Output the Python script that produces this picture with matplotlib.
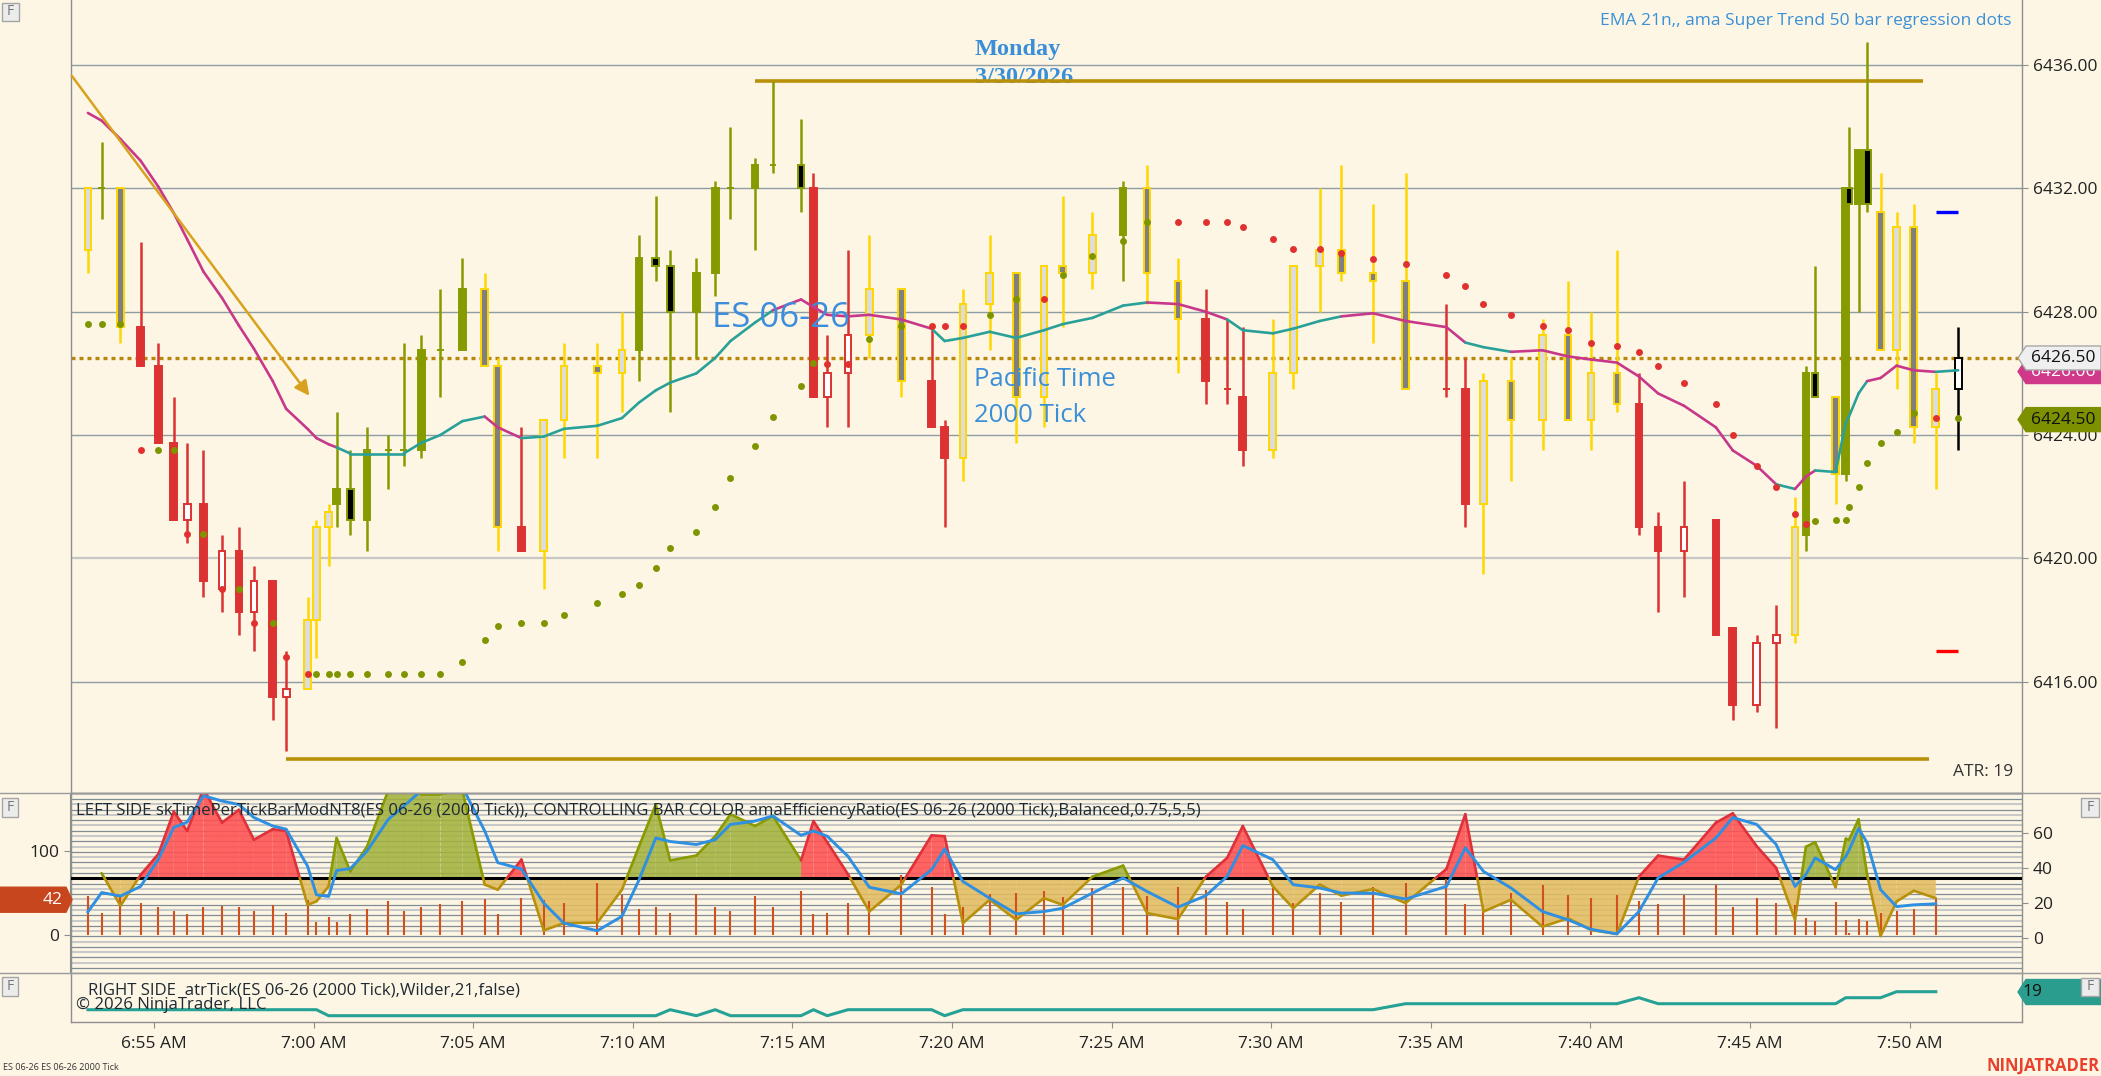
import matplotlib
matplotlib.use('Agg')
import matplotlib.pyplot as plt
import numpy as np
from matplotlib.patches import Rectangle, Polygon

# ---------------- DATA ----------------
# bar close times, minutes after 6:00 AM
bar_time = [52.93, 53.36, 53.95, 54.58, 55.14, 55.62, 56.04, 56.55, 57.13, 57.66,
            58.13, 58.72, 59.14, 59.81, 60.09, 60.47, 60.72, 61.15, 61.67, 62.34,
            62.82, 63.38, 63.97, 64.66, 65.36, 65.77, 66.51, 67.21, 67.84, 68.89,
            69.66, 70.19, 70.72, 71.17, 71.99, 72.58, 73.06, 73.83, 74.39, 75.27,
            75.66, 76.09, 76.74, 77.41, 78.41, 79.36, 79.77, 80.34, 81.18, 82.01,
            82.88, 83.47, 84.40, 85.36, 86.11, 87.08, 87.95, 88.62, 89.11, 90.05,
            90.69, 91.52, 92.20, 93.19, 94.21, 95.49, 96.08, 96.65, 97.51, 98.50,
            99.30, 100.02, 100.83, 101.52, 102.12, 102.93, 103.93, 104.46, 105.21, 105.82,
            106.41, 106.75, 107.04, 107.68, 108.00, 108.10, 108.40, 108.67, 109.09, 109.59,
            110.13, 110.82, 111.52]
bar_open = [6430.0, 6432.0, 6432.0, 6427.5, 6426.25, 6423.75, 6421.25, 6421.75, 6419.0, 6420.25,
            6418.25, 6419.25, 6415.5, 6415.75, 6418.0, 6421.0, 6421.75, 6422.25, 6421.25, 6423.5,
            6423.5, 6423.5, 6426.75, 6426.75, 6428.75, 6426.25, 6421.0, 6420.25, 6424.5, 6426.25,
            6426.0, 6426.75, 6429.75, 6429.5, 6428.0, 6429.25, 6432.0, 6432.0, 6432.75, 6432.75,
            6432.0, 6425.25, 6426.0, 6427.25, 6428.75, 6425.75, 6424.25, 6423.25, 6428.25, 6429.25,
            6425.25, 6429.5, 6429.25, 6430.5, 6432.0, 6429.0, 6427.75, 6425.5, 6425.25, 6423.5,
            6426.0, 6429.5, 6430.0, 6429.25, 6429.0, 6425.5, 6425.5, 6421.75, 6425.75, 6424.5,
            6427.25, 6424.5, 6426.0, 6425.0, 6421.0, 6420.25, 6421.25, 6417.75, 6415.25, 6417.25,
            6417.5, 6420.75, 6426.0, 6425.25, 6422.75, 6432.0, 6431.5, 6433.25, 6431.25, 6426.75,
            6430.75, 6424.25, 6425.5]
bar_high = [6432.0, 6433.5, 6432.0, 6430.25, 6427.0, 6425.25, 6423.75, 6423.5, 6420.75, 6421.0,
            6419.75, 6419.25, 6417.0, 6418.75, 6421.25, 6421.75, 6424.75, 6423.5, 6424.25, 6424.0,
            6427.0, 6427.25, 6428.75, 6429.75, 6429.25, 6426.5, 6424.25, 6424.5, 6427.0, 6427.0,
            6428.0, 6430.5, 6431.75, 6430.0, 6429.75, 6432.25, 6434.0, 6433.0, 6435.5, 6434.25,
            6432.5, 6427.25, 6430.0, 6430.5, 6428.75, 6427.5, 6424.5, 6428.75, 6430.5, 6429.25,
            6429.5, 6431.75, 6431.25, 6432.25, 6432.75, 6429.75, 6428.75, 6427.75, 6427.5, 6427.75,
            6429.5, 6432.0, 6432.75, 6431.5, 6432.5, 6428.25, 6426.5, 6426.0, 6426.5, 6427.75,
            6429.0, 6428.0, 6430.0, 6426.0, 6421.5, 6422.5, 6421.25, 6417.75, 6417.5, 6418.5,
            6422.0, 6426.25, 6429.5, 6425.25, 6432.0, 6434.0, 6433.25, 6436.75, 6432.5, 6431.25,
            6431.5, 6426.0, 6427.5]
bar_low = [6429.25, 6431.0, 6427.0, 6426.25, 6423.75, 6421.25, 6420.5, 6418.75, 6418.25, 6417.5,
           6417.0, 6414.75, 6413.75, 6415.75, 6416.75, 6419.75, 6421.0, 6420.75, 6420.25, 6422.25,
           6423.0, 6423.25, 6425.25, 6426.75, 6426.25, 6420.25, 6420.25, 6419.0, 6423.25, 6423.25,
           6424.75, 6425.75, 6429.0, 6424.75, 6426.5, 6428.5, 6431.0, 6430.0, 6432.5, 6431.25,
           6425.25, 6424.25, 6424.25, 6426.5, 6425.25, 6424.25, 6421.0, 6422.5, 6426.75, 6423.75,
           6424.25, 6427.5, 6428.75, 6429.0, 6428.25, 6426.0, 6425.0, 6425.0, 6423.0, 6423.25,
           6425.5, 6428.0, 6429.0, 6427.0, 6425.5, 6425.25, 6421.0, 6419.5, 6422.5, 6423.5,
           6424.5, 6423.5, 6424.75, 6420.75, 6418.25, 6418.75, 6417.5, 6414.75, 6415.0, 6414.5,
           6417.25, 6420.25, 6425.25, 6421.75, 6422.5, 6431.5, 6428.0, 6431.25, 6426.75, 6425.5,
           6423.75, 6422.25, 6423.5]
bar_close = [6432.0, 6432.0, 6427.5, 6426.25, 6423.75, 6421.25, 6421.75, 6419.25, 6420.25, 6418.25,
             6419.25, 6415.5, 6415.75, 6418.0, 6421.0, 6421.5, 6422.25, 6421.25, 6423.5, 6423.5,
             6423.5, 6426.75, 6426.75, 6428.75, 6426.25, 6421.0, 6420.25, 6424.5, 6426.25, 6426.0,
             6426.75, 6429.75, 6429.5, 6428.0, 6429.25, 6432.0, 6432.0, 6432.75, 6432.75, 6432.0,
             6425.25, 6426.0, 6427.25, 6428.75, 6425.75, 6424.25, 6423.25, 6428.25, 6429.25, 6425.25,
             6429.5, 6429.25, 6430.5, 6432.0, 6429.25, 6427.75, 6425.75, 6425.5, 6423.5, 6426.0,
             6429.5, 6430.0, 6429.25, 6429.0, 6425.5, 6425.5, 6421.75, 6425.75, 6424.5, 6427.25,
             6424.5, 6426.0, 6425.0, 6421.0, 6420.25, 6421.0, 6417.5, 6415.25, 6417.25, 6417.5,
             6421.0, 6426.0, 6425.25, 6422.75, 6432.0, 6431.5, 6433.25, 6431.5, 6426.75, 6430.75,
             6424.25, 6425.5, 6426.5]
# bar colour class from efficiency ratio: r=red, g=olive, y=yellow, k=current bar
bar_class = list("ygy" "rrrrrrrrrr" "yyy" "gggggggg" "yy" "r" "yyyy" "ggggggggg" "rrr" "yy"
                 "rr" "yyyyyy" "g" "yy" "rrr" "yyyyyy" "rr" "yyyyyy" "rrrrrrr" "y" "gg" "y"
                 "gggg" "yyyy" "k")
# super trend / regression dots
dot_value = [6427.6, 6427.6, 6427.6, 6423.5, 6423.5, 6423.5, 6420.8, 6420.8, 6419.0, 6419.0,
             6417.9, 6417.9, 6416.8, 6416.25, 6416.25, 6416.25, 6416.25, 6416.25, 6416.25, 6416.25,
             6416.25, 6416.25, 6416.25, 6416.65, 6417.35, 6417.8, 6417.9, 6417.9, 6418.15, 6418.55,
             6418.85, 6419.15, 6419.7, 6420.35, 6420.85, 6421.65, 6422.6, 6423.65, 6424.6, 6425.6,
             6426.35, 6426.3, 6426.3, 6427.1, 6427.55, 6427.55, 6427.55, 6427.55, 6427.9, 6428.4,
             6428.4, 6429.2, 6429.8, 6430.3, 6430.9, 6430.9, 6430.9, 6430.9, 6430.75, 6430.35,
             6430.05, 6430.05, 6429.9, 6429.7, 6429.55, 6429.2, 6428.85, 6428.25, 6427.9, 6427.55,
             6427.4, 6427.0, 6426.9, 6426.7, 6426.25, 6425.7, 6425.0, 6424.0, 6423.0, 6422.3,
             6421.45, 6421.1, 6421.2, 6421.25, 6421.25, 6421.65, 6422.3, 6423.1, 6423.75, 6424.1,
             6424.7, 6424.55, 6424.55]
dot_class = list("ggg" "r" "gg" "r" "g" "r" "g" "r" "g" "rr"
                 "ggggggggggggggggggggggggggg" "rr" "gg" "rrr" "gg" "r" "gggg"
                 "rrrrrrrrrrrrrrrrrrrrrrrrrrr" "ggggggggg" "r" "g")
# EMA 21
ema_value = [6434.45, 6434.2, 6433.6, 6432.9, 6432.05, 6431.2, 6430.35, 6429.3, 6428.45, 6427.55,
             6426.8, 6425.75, 6424.85, 6424.2, 6423.9, 6423.7, 6423.6, 6423.4, 6423.4, 6423.4,
             6423.4, 6423.75, 6424.0, 6424.45, 6424.6, 6424.25, 6423.9, 6423.95, 6424.2, 6424.3,
             6424.55, 6425.05, 6425.45, 6425.7, 6426.0, 6426.5, 6427.05, 6427.65, 6428.05, 6428.4,
             6428.15, 6427.9, 6427.85, 6427.9, 6427.75, 6427.45, 6427.05, 6427.15, 6427.35, 6427.15,
             6427.4, 6427.6, 6427.8, 6428.2, 6428.3, 6428.25, 6428.0, 6427.75, 6427.4, 6427.3,
             6427.45, 6427.7, 6427.85, 6427.95, 6427.7, 6427.5, 6427.0, 6426.85, 6426.7, 6426.75,
             6426.55, 6426.45, 6426.35, 6425.9, 6425.35, 6424.95, 6424.25, 6423.5, 6423.0, 6422.4,
             6422.25, 6422.65, 6422.85, 6422.8, 6424.4, 6424.6, 6425.35, 6425.75, 6425.85, 6426.25,
             6426.1, 6426.05, 6426.1]
# colour of the EMA segment that ends at each bar: m=magenta, t=teal
ema_class = list("m" "mmmmmmmmmmmmmmmm" "tttttttt" "mm" "tttttttttttt" "mmmmmmm" "ttttttttt"
                 "mmm" "ttttt" "mmmm" "tt" "mmmmmmmmmmm" "t" "mm" "ttttt" "mmmm" "t")
# lower panel: time per tick (left scale) and efficiency ratio (right scale)
tpt = [46.4, 25.8, 45.6, 37.7, 33, 28.6, 25, 33, 34.5, 33,
       28.6, 35.3, 25.8, 41.7, 15.9, 21.8, 15.9, 25, 31, 40.5,
       28.6, 33, 36.5, 40.5, 42.9, 24.6, 44.4, 41.7, 37.7, 62.3,
       47.6, 30.6, 33, 25.8, 48.8, 33.7, 28.9, 46.4, 33, 52.4,
       24.6, 25.8, 38.5, 40.5, 71.4, 57.5, 24.6, 33.7, 48.8, 49.6,
       52.4, 45.6, 55.6, 57.5, 46.4, 57.5, 53.6, 39.7, 30.6, 56.3,
       38.5, 50.4, 39.7, 57.5, 61.5, 66.3, 36.9, 34.5, 49.6, 59.5,
       47.6, 43.7, 47.6, 40.5, 36.9, 47.6, 59.5, 33, 44.4, 37.7,
       35.7, 19.8, 16.7, 39.7, 17.9, 2.8, 18.7, 16.7, 25.8, 28.6,
       31, 42.5]
eff_ratio = [np.nan, 37, 18.5, 36, 48, 72, 61, 85, 65.7, 73,
             56, 62, 61, 19, 21, 29.5, 57, 38, 52, 84,
             84, 82, 82, 84, 30.5, 27.6, 44.7, 4.5, 8.6, 8.9,
             27.6, 52, 76, 44.3, 47, 58, 70.5, 63.8, 69.5, 44.3,
             66.6, 54.6, 36.4, 15.2, 30.5, 58.5, 58, 8.6, 21.9, 10.5,
             22.8, 19, 35, 41.3, 14.3, 10.9, 34.9, 45.7, 63.8, 29.5,
             17.1, 30.5, 24.2, 28, 20, 39.4, 70.5, 15.2, 21.9, 6.6,
             11.4, 4.7, 2.5, 35, 47, 44.7, 65.7, 71, 52.3, 40,
             10.5, 52, 54.6, 29, 56.6, 56, 67.6, 36, 1.3, 20.9,
             27, 22.8]
# colour of the area above the threshold: r=red, g=olive, -=below
eff_class = list("-" "g" "-" "rrrrrrrrrr" "---" "gggggggg" "--" "r" "----" "ggggggggg" "rrr" "--"
                 "rr" "-----" "gg" "--" "rrr" "------" "rr" "------" "rrrrrrr" "-" "gg" "-"
                 "gggg" "----")
eff_signal = [15, 26, 24, 29.5, 45, 63, 66, 81, 78, 76,
              68.6, 63.8, 62, 41, 24.7, 23.8, 38.5, 39.6, 49.5, 67.6,
              75, 84, 86, 86, 61, 43, 39.4, 20, 8.6, 4.3,
              12.5, 33, 57, 55, 53.3, 56, 64.7, 66.6, 69.5, 58.5,
              61, 58, 46.6, 29, 25.3, 39, 50.8, 32.3, 22.8, 13.9,
              15.2, 17.1, 25.7, 34.3, 26.6, 17.7, 24.2, 35.2, 52.7, 44.7,
              30.5, 28.6, 25.7, 25.7, 22.3, 29.5, 51.4, 38, 28.6, 15.2,
              10.5, 5.1, 2.5, 15.2, 34.3, 43.2, 57, 68.6, 64.7, 53.3,
              29.5, 36.2, 45.7, 39, 46.6, 50, 62.3, 54.3, 27.6, 18,
              19, 19.6]
eff_threshold = 34.1
atr_ticks = [16, 16, 16, 16, 16, 16, 16, 16, 16, 16,
             16, 16, 16, 16, 16, 15, 15, 15, 15, 15,
             15, 15, 15, 15, 15, 15, 15, 15, 15, 15,
             15, 15, 15, 16, 15, 16, 15, 15, 15, 15,
             16, 15, 16, 16, 16, 16, 15, 16, 16, 16,
             16, 16, 16, 16, 16, 16, 16, 16, 16, 16,
             16, 16, 16, 16, 17, 17, 17, 17, 17, 17,
             17, 17, 17, 18, 17, 17, 17, 17, 17, 17,
             17, 17, 17, 17, 18, 18, 18, 18, 18, 19,
             19, 19]
# drawn objects
last_price = 6426.50
ema_last = 6426.06
dot_last = 6424.50
atr_last = 19
tpt_last = 42
level_price = [6435.5, 6413.5]
level_start = [73.83, 59.14]
level_end = [110.42, 110.60]
arrow_time = [52.37, 59.92]
arrow_price = [6435.73, 6425.20]
target_price = [6431.25, 6417.0]
target_time = [110.82, 111.52]
price_ticks = [6416, 6420, 6424, 6428, 6432, 6436]
time_ticks = [55, 60, 65, 70, 75, 80, 85, 90, 95, 100, 105, 110]
time_labels = ['6:55 AM', '7:00 AM', '7:05 AM', '7:10 AM', '7:15 AM', '7:20 AM',
               '7:25 AM', '7:30 AM', '7:35 AM', '7:40 AM', '7:45 AM', '7:50 AM']

# ---------------- STYLE ----------------
W, H = 2101, 1076
BG = '#FDF6E4'
plt.rcParams['font.family'] = ['Open Sans', 'DejaVu Sans']
fig = plt.figure(figsize=(W / 100, H / 100), dpi=100)
fig.patch.set_facecolor(BG)

XL, XR = 70.5, 2021.8
def rect(x0, y0, x1, y1):
    return [x0 / W, 1 - y1 / H, (x1 - x0) / W, (y1 - y0) / H]

ax = fig.add_axes(rect(XL, 0, XR, 793))
axi = fig.add_axes(rect(XL, 793, XR, 973.3), sharex=ax)
axa = fig.add_axes(rect(XL, 973.3, XR, 1021.7), sharex=ax)
for a in (ax, axi, axa):
    a.set_facecolor(BG)
    for s in a.spines.values():
        s.set_color('#8E8E8E')
        s.set_linewidth(1.0)
ax.spines['top'].set_visible(False)

xmin, xmax = 52.384, 113.514
ax.set_xlim(xmin, xmax)
ax.set_ylim(6412.385, 6438.115)

RED = '#DC3232'
OLIVE = '#869B00'
GOLD = '#FFD700'
EDGE = {'r': RED, 'g': OLIVE, 'y': GOLD, 'k': '#000000'}
UPFILL = {'r': '#FFFFFF', 'g': OLIVE, 'y': '#DCDCDC', 'k': '#FFFFFF'}
DNFILL = {'r': RED, 'g': '#000000', 'y': '#808080', 'k': '#000000'}

# grid lines of price panel
for v in price_ticks:
    light = (v == 6420)
    ax.axhline(v, color='#C6C6C6' if light else '#8E9DA3', lw=1.6 if light else 1.0, zorder=1)

# candles
bw = 0.21
for i in range(len(bar_time)):
    x = bar_time[i]
    o, hh, ll, c = bar_open[i], bar_high[i], bar_low[i], bar_close[i]
    k = bar_class[i]
    ax.vlines(x, ll, hh, color=EDGE[k], lw=1.8, zorder=3)
    if o == c:
        ax.hlines(o, x - bw / 2, x + bw / 2, color=EDGE[k], lw=1.4, zorder=4)
    else:
        fc = UPFILL[k] if c > o else DNFILL[k]
        ax.add_patch(Rectangle((x - bw / 2, min(o, c)), bw, abs(c - o), facecolor=fc,
                               edgecolor=EDGE[k], lw=1.4, zorder=4))

# EMA line
EMAC = {'m': '#C8388A', 't': '#2AA198'}
for i in range(1, len(ema_value)):
    ax.plot(bar_time[i - 1:i + 1], ema_value[i - 1:i + 1], color=EMAC[ema_class[i]],
            lw=1.9, zorder=5, solid_capstyle='round')

# dots
DOTC = {'g': '#7F9500', 'r': '#E03030'}
for i in range(len(dot_value)):
    ax.plot(bar_time[i], dot_value[i], 'o', ms=5.0, color=DOTC[dot_class[i]], mec='none', zorder=6)

# levels, last price, arrow, targets
ax.axhline(last_price, color='#B8860B', lw=2.4, ls=(0, (1.2, 1.2)), zorder=2)
for p, s, e in zip(level_price, level_start, level_end):
    ax.hlines(p, s, e, color='#B8900A', lw=2.6, zorder=2)
ax.annotate('', xy=(arrow_time[1], arrow_price[1]), xytext=(arrow_time[0], arrow_price[0]),
            arrowprops=dict(arrowstyle='-|>', color='#D9A21E', lw=1.8, mutation_scale=22),
            zorder=7)
ax.hlines(target_price[0], target_time[0], target_time[1], color='#0000FF', lw=2.4, zorder=6)
ax.hlines(target_price[1], target_time[0], target_time[1], color='#FF0000', lw=2.4, zorder=6)

# price axis on right
ax.yaxis.tick_right()
ax.set_yticks(price_ticks)
ax.set_yticklabels(['%.2f' % v for v in price_ticks])
ax.tick_params(axis='y', length=4, color='#8E8E8E', labelsize=12.5, pad=4, labelcolor='#222222')
ax.tick_params(axis='x', bottom=False, labelbottom=False)

# texts inside price panel
BLUE = '#3A8FD8'
ax.text(0.9947, 0.9735, 'EMA 21n,, ama Super Trend 50 bar regression dots', transform=ax.transAxes,
        ha='right', va='center', fontsize=12.5, color=BLUE)
mx = 55 + (975 - 154) / 31.92
ax.text(mx, 6436.33, 'Monday', ha='left', va='baseline', fontsize=17.5, color=BLUE,
        family='Liberation Serif', fontweight='bold', zorder=1.5)
ax.text(mx, 6435.42, '3/30/2026', ha='left', va='baseline', fontsize=17.5, color=BLUE,
        family='Liberation Serif', fontweight='bold', zorder=1.5)
ax.text(55 + (711.6 - 154) / 31.92, 6427.8, 'ES 06-26', ha='left', va='center',
        fontsize=25, color='#3C8DDC', zorder=8)
ax.text(55 + (973.7 - 154) / 31.92, 6425.8, 'Pacific Time', ha='left', va='center',
        fontsize=18.5, color=BLUE, zorder=8)
ax.text(55 + (973.7 - 154) / 31.92, 6424.64, '2000 Tick', ha='left', va='center',
        fontsize=18.5, color=BLUE, zorder=8)
ax.text(0.9955, 0.026, 'ATR: %d' % atr_last, transform=ax.transAxes, ha='right', va='center',
        fontsize=12.5, color='#333333')

# ---------------- indicator panel ----------------
ER_PX = 1.76
def tpt_to_er(v):
    return (0.84 * np.asarray(v, dtype=float) + 3.3) / ER_PX
def er_to_tpt(e):
    return (ER_PX * np.asarray(e, dtype=float) - 3.3) / 0.84

ylo, yhi = (938.3 - 973.3) / ER_PX, (938.3 - 793) / ER_PX
axi.set_ylim(ylo, yhi)
# background level lines
lv = eff_threshold - 3 * 18
j = 0
while lv < yhi:
    if lv > ylo and abs(lv - eff_threshold) > 0.5:
        axi.axhline(lv, color='#C9C9C9' if j % 2 == 0 else '#7F8E96',
                    lw=1.5 if j % 2 == 0 else 0.9, zorder=1)
    lv += 3
    j += 1

FILLC = {'r': '#FF5050', 'g': '#A3B23E', 'y': '#E2BC60'}
LINEC = {'r': '#E0303A', 'g': '#8A9A00', 'y': '#B8900A'}
th = eff_threshold
xs = bar_time[:len(eff_ratio)]

def area_colour(idx, above):
    if not above:
        return 'y'
    d = eff_class[idx]
    return d if d in 'rg' else 'g'

for i in range(len(eff_ratio) - 1):
    y0, y1 = eff_ratio[i], eff_ratio[i + 1]
    if np.isnan(y0) or np.isnan(y1):
        continue
    x0, x1 = xs[i], xs[i + 1]
    a0, a1 = y0 >= th, y1 >= th
    if a0 == a1:
        if a1:
            col = area_colour(i + 1, True) if eff_class[i + 1] in 'rg' else area_colour(i, True)
        else:
            col = 'y'
        pieces = [([x0, x1], [y0, y1], col)]
    else:
        xc = x0 + (th - y0) / (y1 - y0) * (x1 - x0)
        pieces = [([x0, xc], [y0, th], area_colour(i, a0)),
                  ([xc, x1], [th, y1], area_colour(i + 1, a1))]
    for px, py, col in pieces:
        axi.add_patch(Polygon([(px[0], py[0]), (px[1], py[1]), (px[1], th), (px[0], th)],
                              closed=True, facecolor=FILLC[col], edgecolor='none', alpha=0.88,
                              zorder=2))
        axi.plot(px, py, color=LINEC[col], lw=1.9, zorder=4, solid_capstyle='round')

axi.axhline(th, color='#000000', lw=2.2, zorder=3)
axi.vlines(xs, tpt_to_er(0), tpt_to_er(tpt), color='#D2501E', lw=1.5, zorder=3.5)
axi.plot(xs, eff_signal, color='#2F8FE0', lw=2.1, zorder=6)

axi.yaxis.tick_right()
axi.set_yticks([0, 20, 40, 60])
axi.tick_params(axis='y', length=4, color='#8E8E8E', labelsize=12.5, pad=4, labelcolor='#222222')
axi.tick_params(axis='x', bottom=False, labelbottom=False)
sec = axi.secondary_yaxis('left', functions=(er_to_tpt, tpt_to_er))
sec.set_yticks([0, 100])
sec.tick_params(length=4, color='#8E8E8E', labelsize=12.5, pad=4, labelcolor='#222222')
sec.spines['left'].set_color('#8E8E8E')
axi.text(0.003, 0.9, 'LEFT SIDE skTimePerTickBarModNT8(ES 06-26 (2000 Tick)), CONTROLLING BAR COLOR '
         'amaEfficiencyRatio(ES 06-26 (2000 Tick),Balanced,0.75,5,5)', transform=axi.transAxes,
         ha='left', va='center', fontsize=12.1, color='#1E2A33', zorder=9)

# ---------------- ATR panel ----------------
axa.set_ylim(14.0, 22.07)
axa.plot(xs, atr_ticks, color='#26A195', lw=2.2, zorder=3)
axa.spines['top'].set_color('#C8C8C8')
axa.set_yticks([])
axa.tick_params(axis='y', right=False, left=False, labelleft=False)
axa.set_xticks(time_ticks)
axa.set_xticklabels(time_labels)
axa.tick_params(axis='x', length=4, color='#8E8E8E', labelsize=12.5, pad=6, labelcolor='#222222')
axa.text(0.009, 0.64, 'RIGHT SIDE  atrTick(ES 06-26 (2000 Tick),Wilder,21,false)',
         transform=axa.transAxes, ha='left', va='center', fontsize=12.1, color='#1E2A33')
axa.text(0.0027, 0.34, '\u00a9 2026 NinjaTrader, LLC', transform=axa.transAxes, ha='left',
         va='center', fontsize=12.1, color='#1E2A33')

# ---------------- figure-level decorations ----------------
fig.canvas.draw()

def ypix(a, v):
    yd = a.transData.transform((0, v))[1]
    return H - yd

def tag(ypx, text, fc, ec, tc, x0=2018.0, x1=2101.0, h=24, point='left', tx=None, z=20):
    if point == 'left':
        pts = [(x0, ypx), (x0 + 8, ypx - h / 2), (x1, ypx - h / 2), (x1, ypx + h / 2), (x0 + 8, ypx + h / 2)]
    else:
        pts = [(x1, ypx), (x1 - 6, ypx - h / 2), (x0, ypx - h / 2), (x0, ypx + h / 2), (x1 - 6, ypx + h / 2)]
    pts = [(px / W, 1 - py / H) for px, py in pts]
    fig.add_artist(Polygon(pts, closed=True, transform=fig.transFigure, facecolor=fc,
                           edgecolor=ec, lw=1.0, zorder=z))
    if tx is None:
        tx = (x0 + 8 + x1) / 2
    fig.text(tx / W, 1 - ypx / H, text, ha='center', va='center', fontsize=12.5, color=tc,
             zorder=z + 0.5)

tag(ypix(ax, ema_last), '%.2f' % ema_last, '#D0388A', '#D0388A', '#FFFFFF', z=20)
tag(ypix(ax, last_price), '%.2f' % last_price, '#EFEFEF', '#A8A8A8', '#111111', z=22)
tag(ypix(ax, dot_last), '%.2f' % dot_last, '#7D9100', '#7D9100', '#111111', z=22)
tag(992.0, '%d' % atr_last, '#2A9D8F', '#2A9D8F', '#111111', h=25, tx=2032, z=22)
tag(ypix(axi, tpt_to_er(tpt_last)), '%d' % tpt_last, '#C8461E', '#C8461E', '#FFFFFF',
    x0=0, x1=72, h=25, point='right', tx=53, z=22)

def fbutton(x0, y0, x1, y1):
    fig.add_artist(Rectangle((x0 / W, 1 - y1 / H), (x1 - x0) / W, (y1 - y0) / H,
                             transform=fig.transFigure, facecolor='#ECECEC',
                             edgecolor='#A5A5A5', lw=1.0, zorder=23))
    fig.text((x0 + x1) / 2 / W, 1 - (y0 + y1) / 2 / H, 'F', ha='center', va='center',
             fontsize=10, color='#777777', zorder=24)

fbutton(1.5, 2.5, 19, 21)
fbutton(1.5, 798, 18, 817)
fbutton(1.5, 977, 18, 996)
fbutton(2081, 798, 2099, 817)
fbutton(2081, 978, 2099, 996)

# panel separator lines across full width
for yy in (793, 973.3):
    fig.add_artist(plt.Line2D([0, 1], [1 - yy / H, 1 - yy / H], transform=fig.transFigure,
                              color='#9A9A9A', lw=1.0, zorder=1))

fig.text(3 / W, 1 - 1067 / H, 'ES 06-26 ES 06-26 2000 Tick', ha='left', va='center',
         fontsize=6.5, color='#333333')
fig.text(2099 / W, 1 - 1066 / H, 'NINJATRADER', ha='right', va='center', fontsize=12,
         fontweight='bold', color='#E8412C')

fig.savefig('out.png', dpi=100, facecolor=BG)
